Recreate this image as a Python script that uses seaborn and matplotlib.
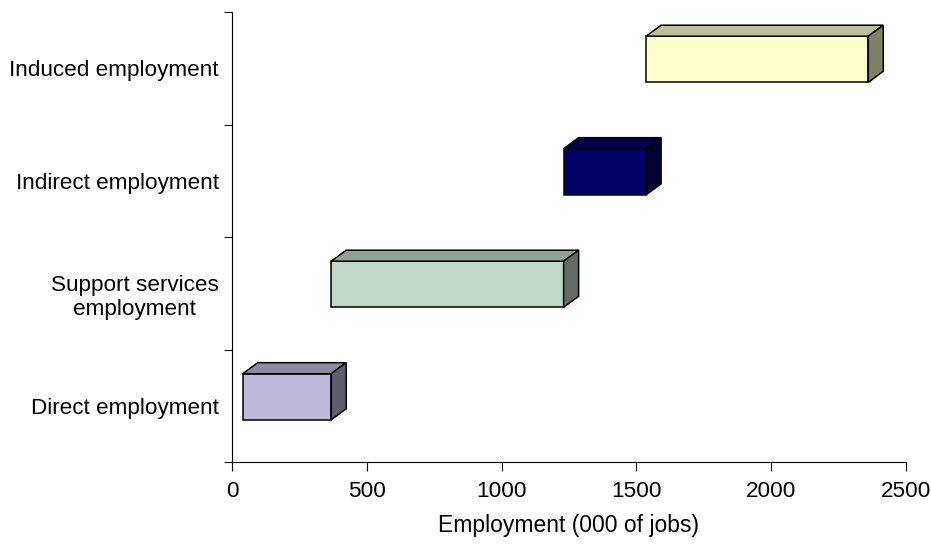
import numpy as np
import pandas as pd
import matplotlib
matplotlib.use("Agg")
import matplotlib.pyplot as plt
import matplotlib.colors as mcolors
from matplotlib.patches import Polygon
import seaborn as sns

# Employment contributions (thousands of jobs), drawn as a floating waterfall
categories = ["Induced employment", "Indirect employment",
              "Support services\nemployment", "Direct employment"]
starts = [1536, 1230, 368, 40]
ends = [2360, 1536, 1230, 368]
front_colors = ["#FFFFCC", "#000066", "#C0D8C8", "#BCB9D9"]
x_ticks = [0, 500, 1000, 1500, 2000, 2500]

sns.set_theme(style="white")
plt.rcParams["font.family"] = ["Liberation Sans", "DejaVu Sans"]

df = pd.DataFrame({"category": categories, "start": starts, "end": ends})
df["span"] = df["end"] - df["start"]

W, H = 931, 546
fig = plt.figure(figsize=(W / 100, H / 100), dpi=100)
ax = fig.add_axes([232 / W, 84 / H, 674 / W, 450 / H])

bar_h = 0.41
edge_lw = 1.1
sns.barplot(data=df, y="category", x="span", order=categories, orient="h",
            left=df["start"].to_numpy(), width=bar_h, color="white",
            edgecolor="black", linewidth=edge_lw, errorbar=None, ax=ax)

ax.set_xlim(0, 2500)
ax.set_ylim(3.5, -0.5)

# pseudo-3D depth: offset of the back edges, in data units
px_per_x = 674 / 2500
px_per_cat = 450 / 4
dx = 15 / px_per_x
dy = 11 / px_per_cat
lift = 0.08

for patch, col in zip(ax.patches[:len(categories)], front_colors):
    patch.set_y(patch.get_y() - lift)
    patch.set_facecolor(col)
    x0 = patch.get_x()
    x1 = x0 + patch.get_width()
    yt = patch.get_y()
    yb = yt + patch.get_height()
    rgb = np.array(mcolors.to_rgb(col))
    top = Polygon([(x0, yt), (x1, yt), (x1 + dx, yt - dy), (x0 + dx, yt - dy)],
                  closed=True, facecolor=rgb * 0.75, edgecolor="black",
                  linewidth=edge_lw, zorder=patch.get_zorder())
    side = Polygon([(x1, yt), (x1 + dx, yt - dy), (x1 + dx, yb - dy), (x1, yb)],
                   closed=True, facecolor=rgb * 0.5, edgecolor="black",
                   linewidth=edge_lw, zorder=patch.get_zorder())
    ax.add_patch(top)
    ax.add_patch(side)

# category boundaries carry the ticks, labels sit at band centres
ax.set_yticks([-0.5, 0.5, 1.5, 2.5, 3.5])
ax.set_yticklabels([])
ax.set_yticks(range(len(categories)), minor=True)
ax.set_yticklabels(categories, minor=True, multialignment="center")
ax.tick_params(axis="y", which="major", left=True, length=6, width=0.8,
               color="black", direction="out")
ax.tick_params(axis="y", which="minor", left=True, length=0, pad=9.5,
               labelsize=16.2, labelcolor="black")

ax.set_xticks(x_ticks)
ax.set_xticklabels([str(v) for v in x_ticks])
ax.tick_params(axis="x", which="major", bottom=True, length=6.5, width=0.8,
               color="black", direction="out", labelsize=16.2, pad=7.5,
               labelcolor="black")

ax.set_ylabel("")
ax.set_xlabel("Employment (000 of jobs)", fontsize=16.5, color="black", labelpad=8.5)

for s in ["top", "right"]:
    ax.spines[s].set_visible(False)
for s in ["left", "bottom"]:
    ax.spines[s].set_color("black")
    ax.spines[s].set_linewidth(0.8)

fig.savefig("out.png", dpi=100, facecolor="white")
